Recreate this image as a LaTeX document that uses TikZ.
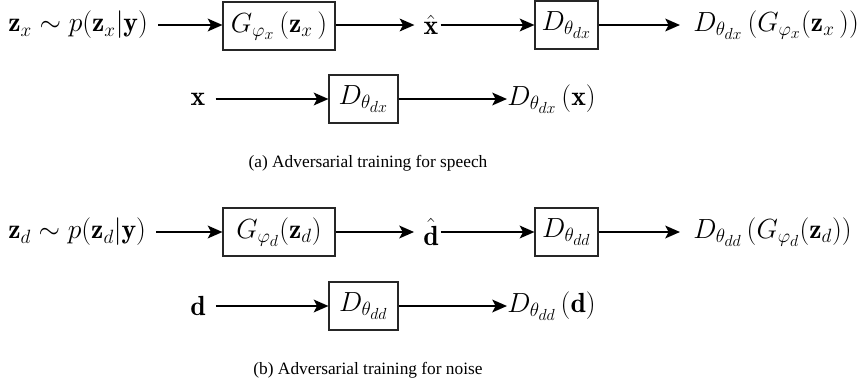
\documentclass[tikz,border=0pt]{standalone}
\usepackage{fontspec}
\newfontfamily\capfont{Liberation Serif}
\usetikzlibrary{arrows.meta}
\begin{document}
\begin{tikzpicture}[x=0.75pt,y=-0.75pt,
  mathfont/.style={font=\fontsize{20.74}{24}\selectfont},
  box/.style={draw=black!85, line width=0.8pt, minimum height=36pt, inner sep=0pt, mathfont},
  gbox/.style={box, minimum width=84pt},
  dbox/.style={box, minimum width=47.25pt},
  dboxb/.style={box, minimum width=51.75pt},
  lab/.style={inner sep=0pt, mathfont},
  arr/.style={line width=1.7pt, -{Stealth[length=11pt,width=9.5pt,inset=2.5pt]}},
  captext/.style={font=\capfont\fontsize{13}{15}\selectfont}]
\useasboundingbox (0,0) rectangle (861,387);

% ---- (a) speech ----
\node[lab, anchor=west] (zx) at (8,25) {$\mathbf{z}_x \sim p(\mathbf{z}_x|\mathbf{y})$};
\node[gbox] (Gx) at (279,26) {$G_{\varphi_x}\,(\mathbf{z}_x\,)$};
\node[lab] (xhat) at (431,25) {$\hat{\mathbf{x}}$};
\node[dbox] (Dx1) at (566.5,25) {$D_{\theta_{dx}}$};
\node[lab, anchor=west] (out1) at (693,25) {$D_{\theta_{dx}}\,(G_{\varphi_x}(\mathbf{z}_x\,))$};

\node[lab] (x) at (198,99) {$\mathbf{x}$};
\node[dboxb] (Dx2) at (363.5,99) {$D_{\theta_{dx}}$};
\node[lab, anchor=west] (out2) at (507,99) {$D_{\theta_{dx}}\,(\mathbf{x})$};

\draw[arr, shorten <=10*0.75pt] (zx) -- (zx -| Gx.west);
\draw[arr, shorten >=9*0.75pt] (Gx.east |- xhat) -- (xhat);
\draw[arr, shorten <=2*0.75pt] (xhat) -- (Dx1);
\draw[arr, shorten >=13*0.75pt] (Dx1) -- (out1);
\draw[arr, shorten <=10*0.75pt] (x) -- (Dx2);
\draw[arr] (Dx2) -- (out2);

\node[captext] (capa) at (368,163) {(a) Adversarial training for speech};

% ---- (b) noise ----
\node[lab, anchor=west] (zd) at (8,232) {$\mathbf{z}_d \sim p(\mathbf{z}_d|\mathbf{y})$};
\node[gbox] (Gd) at (279,232) {$G_{\varphi_d}(\mathbf{z}_d)$};
\node[lab] (dhat) at (431,232) {$\hat{\mathbf{d}}$};
\node[dbox] (Dd1) at (566.5,232) {$D_{\theta_{dd}}$};
\node[lab, anchor=west] (out3) at (693,232) {$D_{\theta_{dd}}\,(G_{\varphi_d}(\mathbf{z}_d))$};

\node[lab] (d) at (198,306) {$\mathbf{d}$};
\node[dboxb] (Dd2) at (363.5,306) {$D_{\theta_{dd}}$};
\node[lab, anchor=west] (out4) at (507,306) {$D_{\theta_{dd}}\,(\mathbf{d})$};

\draw[arr, shorten <=10*0.75pt] (zd) -- (zd -| Gd.west);
\draw[arr, shorten >=9*0.75pt] (Gd.east |- dhat) -- (dhat);
\draw[arr, shorten <=2*0.75pt] (dhat) -- (Dd1);
\draw[arr, shorten >=13*0.75pt] (Dd1) -- (out3);
\draw[arr, shorten <=10*0.75pt] (d) -- (Dd2);
\draw[arr] (Dd2) -- (out4);

\node[captext] (capb) at (368,370) {(b) Adversarial training for noise};
\end{tikzpicture}
\end{document}
